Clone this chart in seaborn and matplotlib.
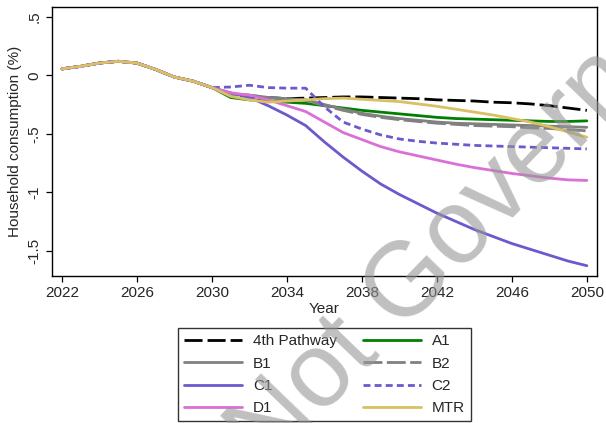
"""
Household consumption pathways, 2022-2050.
"""

import matplotlib
matplotlib.use("Agg")
import matplotlib.pyplot as plt
from matplotlib.lines import Line2D
import pandas as pd
import seaborn as sns

# Data (percent deviation)
YEARS = list(range(2022, 2051))
COMMON = [0.055, 0.077, 0.105, 0.12, 0.105, 0.05, -0.015, -0.05, -0.105]

FOURTH = [-0.17, -0.18, -0.19, -0.20, -0.195, -0.19, -0.185, -0.185, -0.19, -0.195,
          -0.20, -0.21, -0.215, -0.22, -0.23, -0.235, -0.245, -0.26, -0.28, -0.30]
A1 = [-0.19, -0.21, -0.22, -0.23, -0.24, -0.26, -0.28, -0.30, -0.315, -0.33,
      -0.345, -0.36, -0.37, -0.375, -0.38, -0.385, -0.39, -0.395, -0.395, -0.39]
B1 = [-0.16, -0.17, -0.19, -0.20, -0.21, -0.25, -0.29, -0.325, -0.35, -0.37,
      -0.385, -0.40, -0.41, -0.415, -0.42, -0.425, -0.43, -0.435, -0.44, -0.445]
B2 = [-0.16, -0.17, -0.19, -0.20, -0.215, -0.26, -0.30, -0.335, -0.36, -0.38,
      -0.395, -0.41, -0.42, -0.43, -0.435, -0.44, -0.45, -0.455, -0.465, -0.475]
C1 = [-0.15, -0.19, -0.26, -0.34, -0.43, -0.57, -0.70, -0.82, -0.93, -1.02,
      -1.10, -1.18, -1.25, -1.32, -1.38, -1.44, -1.49, -1.54, -1.59, -1.63]
C2 = [-0.10, -0.085, -0.105, -0.11, -0.11, -0.27, -0.40, -0.46, -0.51, -0.545,
      -0.565, -0.58, -0.59, -0.60, -0.605, -0.61, -0.615, -0.62, -0.625, -0.63]
D1 = [-0.15, -0.17, -0.21, -0.26, -0.31, -0.40, -0.49, -0.55, -0.61, -0.655,
      -0.69, -0.725, -0.76, -0.79, -0.815, -0.84, -0.86, -0.88, -0.895, -0.90]
MTR = [-0.18, -0.21, -0.23, -0.22, -0.21, -0.20, -0.195, -0.205, -0.215, -0.225,
       -0.245, -0.265, -0.29, -0.315, -0.34, -0.37, -0.40, -0.44, -0.485, -0.53]

SERIES = ["4th Pathway", "A1", "B1", "B2", "C1", "C2", "D1", "MTR"]
VALUES = [FOURTH, A1, B1, B2, C1, C2, D1, MTR]

Y_TICKS = [0.5, 0, -0.5, -1, -1.5]
Y_TICK_LABELS = [".5", "0", "-.5", "-1", "-1.5"]
X_TICKS = [2022, 2026, 2030, 2034, 2038, 2042, 2046, 2050]

COLORS = {
    "4th Pathway": "#000000",
    "A1": "#007f00",
    "B1": "#808080",
    "B2": "#808080",
    "C1": "#6a5acd",
    "C2": "#6a5acd",
    "D1": "#da70d6",
    "MTR": "#d9c064",
}
DASHES = {
    "4th Pathway": (6.5, 1.8),
    "A1": "",
    "B1": "",
    "B2": (6.8, 1.6),
    "C1": "",
    "C2": (2.5, 1.5),
    "D1": "",
    "MTR": "",
}
LW = 2.0

# Long-form table
rows = []
for name, tail in zip(SERIES, VALUES):
    for year, val in zip(YEARS, COMMON + tail):
        rows.append({"year": year, "value": val, "series": name})
df = pd.DataFrame(rows)

sns.set_style("ticks")
plt.rcParams["font.family"] = ["Liberation Sans", "DejaVu Sans"]

fig = plt.figure(figsize=(6.06, 4.23), dpi=100)
ax = fig.add_axes([0.0858, 0.3475, 0.899, 0.636])

sns.lineplot(
    data=df, x="year", y="value", hue="series", style="series",
    hue_order=SERIES, style_order=SERIES, palette=COLORS, dashes=DASHES,
    linewidth=LW, legend=False, ax=ax,
)

ax.set_xlim(2021.47, 2050.53)
ax.set_ylim(-1.718, 0.585)
ax.set_xticks(X_TICKS)
ax.set_xticklabels([str(x) for x in X_TICKS], fontsize=11)
ax.set_yticks(Y_TICKS)
ax.set_yticklabels(Y_TICK_LABELS, fontsize=11, rotation=90, va="center")
ax.tick_params(direction="out", length=4.5, width=0.9, color="black", pad=3)
for spine in ax.spines.values():
    spine.set_visible(True)
    spine.set_color("black")
    spine.set_linewidth(1.0)
ax.set_xlabel("Year", fontsize=11, labelpad=1)
ax.set_ylabel("Household consumption (%)", fontsize=11, labelpad=4)

# Legend: row-major order in two columns
order = ["4th Pathway", "B1", "C1", "D1", "A1", "B2", "C2", "MTR"]
handles = []
for name in order:
    ls = (0, DASHES[name]) if DASHES[name] else "-"
    handles.append(Line2D([], [], color=COLORS[name], lw=LW, linestyle=ls))
leg = fig.legend(
    handles, order, loc="upper center", bbox_to_anchor=(0.5355, 0.2246),
    ncol=2, fontsize=11, frameon=True, fancybox=False, handlelength=3.8,
    handletextpad=0.7, columnspacing=1.7, labelspacing=0.55, borderpad=0.4,
    borderaxespad=0,
)
leg.get_frame().set_edgecolor("black")
leg.get_frame().set_linewidth(1.0)

# Watermark
fig.text(0.441, -0.116, "Not Government", fontsize=76, rotation=46,
         rotation_mode="anchor", ha="left", va="baseline",
         color="#969696", alpha=0.6, zorder=10)

fig.savefig("out.png", dpi=100)
plt.close(fig)
